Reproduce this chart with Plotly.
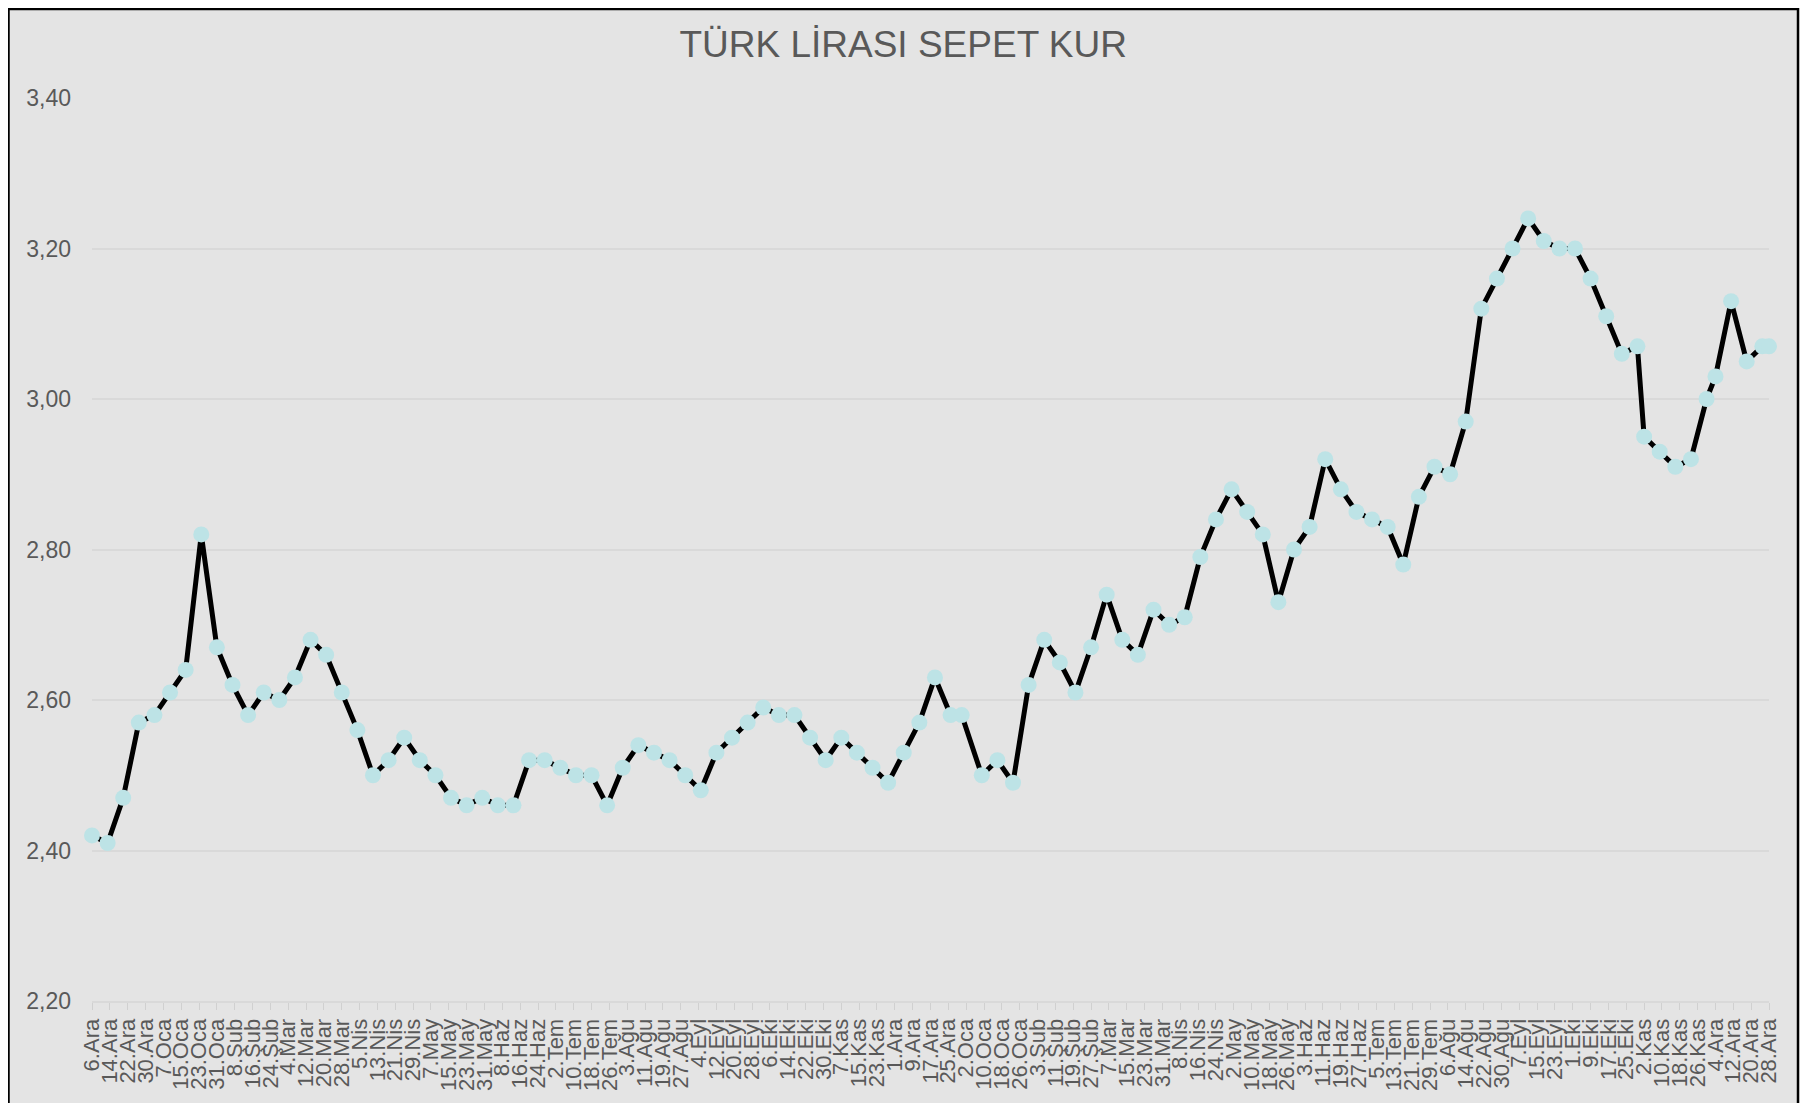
import pandas as pd
import plotly.graph_objects as go

# Weekly basket rate (USD+EUR)/2 against TRY
dates = [
    "2013-12-06", "2013-12-13", "2013-12-20", "2013-12-27", "2014-01-03", "2014-01-10",
    "2014-01-17", "2014-01-24", "2014-01-31", "2014-02-07", "2014-02-14", "2014-02-21",
    "2014-02-28", "2014-03-07", "2014-03-14", "2014-03-21", "2014-03-28", "2014-04-04",
    "2014-04-11", "2014-04-18", "2014-04-25", "2014-05-02", "2014-05-09", "2014-05-16",
    "2014-05-23", "2014-05-30", "2014-06-06", "2014-06-13", "2014-06-20", "2014-06-27",
    "2014-07-04", "2014-07-11", "2014-07-18", "2014-07-25", "2014-08-01", "2014-08-08",
    "2014-08-15", "2014-08-22", "2014-08-29", "2014-09-05", "2014-09-12", "2014-09-19",
    "2014-09-26", "2014-10-03", "2014-10-10", "2014-10-17", "2014-10-24", "2014-10-31",
    "2014-11-07", "2014-11-14", "2014-11-21", "2014-11-28", "2014-12-05", "2014-12-12",
    "2014-12-19", "2014-12-26", "2014-12-31", "2015-01-09", "2015-01-16", "2015-01-23",
    "2015-01-30", "2015-02-06", "2015-02-13", "2015-02-20", "2015-02-27", "2015-03-06",
    "2015-03-13", "2015-03-20", "2015-03-27", "2015-04-03", "2015-04-10", "2015-04-17",
    "2015-04-24", "2015-05-01", "2015-05-08", "2015-05-15", "2015-05-22", "2015-05-29",
    "2015-06-05", "2015-06-12", "2015-06-19", "2015-06-26", "2015-07-03", "2015-07-10",
    "2015-07-17", "2015-07-24", "2015-07-31", "2015-08-07", "2015-08-14", "2015-08-21",
    "2015-08-28", "2015-09-04", "2015-09-11", "2015-09-18", "2015-09-25", "2015-10-02",
    "2015-10-09", "2015-10-16", "2015-10-23", "2015-10-30", "2015-11-02", "2015-11-09",
    "2015-11-16", "2015-11-23", "2015-11-30", "2015-12-04", "2015-12-11", "2015-12-18",
    "2015-12-25", "2015-12-28",
]

values = [
    2.42, 2.41, 2.47, 2.57, 2.58, 2.61, 2.64, 2.82, 2.67, 2.62, 2.58, 2.61,
    2.60, 2.63, 2.68, 2.66, 2.61, 2.56, 2.50, 2.52, 2.55, 2.52, 2.50, 2.47,
    2.46, 2.47, 2.46, 2.46, 2.52, 2.52, 2.51, 2.50, 2.50, 2.46, 2.51, 2.54,
    2.53, 2.52, 2.50, 2.48, 2.53, 2.55, 2.57, 2.59, 2.58, 2.58, 2.55, 2.52,
    2.55, 2.53, 2.51, 2.49, 2.53, 2.57, 2.63, 2.58, 2.58, 2.50, 2.52, 2.49,
    2.62, 2.68, 2.65, 2.61, 2.67, 2.74, 2.68, 2.66, 2.72, 2.70, 2.71, 2.79,
    2.84, 2.88, 2.85, 2.82, 2.73, 2.80, 2.83, 2.92, 2.88, 2.85, 2.84, 2.83,
    2.78, 2.87, 2.91, 2.90, 2.97, 3.12, 3.16, 3.20, 3.24, 3.21, 3.20, 3.20,
    3.16, 3.11, 3.06, 3.07, 2.95, 2.93, 2.91, 2.92, 3.00, 3.03, 3.13, 3.05,
    3.07, 3.07,
]

# x axis labels, one every 8 days starting 6 Dec 2013
tick_labels = [
    "6.Ara", "14.Ara", "22.Ara", "30.Ara", "7.Oca", "15.Oca", "23.Oca", "31.Oca",
    "8.Şub", "16.Şub", "24.Şub", "4.Mar", "12.Mar", "20.Mar", "28.Mar", "5.Nis",
    "13.Nis", "21.Nis", "29.Nis", "7.May", "15.May", "23.May", "31.May", "8.Haz",
    "16.Haz", "24.Haz", "2.Tem", "10.Tem", "18.Tem", "26.Tem", "3.Ağu", "11.Ağu",
    "19.Ağu", "27.Ağu", "4.Eyl", "12.Eyl", "20.Eyl", "28.Eyl", "6.Eki", "14.Eki",
    "22.Eki", "30.Eki", "7.Kas", "15.Kas", "23.Kas", "1.Ara", "9.Ara", "17.Ara",
    "25.Ara", "2.Oca", "10.Oca", "18.Oca", "26.Oca", "3.Şub", "11.Şub", "19.Şub",
    "27.Şub", "7.Mar", "15.Mar", "23.Mar", "31.Mar", "8.Nis", "16.Nis", "24.Nis",
    "2.May", "10.May", "18.May", "26.May", "3.Haz", "11.Haz", "19.Haz", "27.Haz",
    "5.Tem", "13.Tem", "21.Tem", "29.Tem", "6.Ağu", "14.Ağu", "22.Ağu", "30.Ağu",
    "7.Eyl", "15.Eyl", "23.Eyl", "1.Eki", "9.Eki", "17.Eki", "25.Eki", "2.Kas",
    "10.Kas", "18.Kas", "26.Kas", "4.Ara", "12.Ara", "20.Ara", "28.Ara",
]
tick_dates = pd.date_range("2013-12-06", periods=len(tick_labels), freq="8D")

FONT = "Liberation Sans, Arial, sans-serif"
TEXT = "#595959"

fig = go.Figure()

fig.add_trace(
    go.Scatter(
        x=pd.to_datetime(dates),
        y=values,
        mode="lines+markers",
        line=dict(color="black", width=5),
        marker=dict(color="#bde3e6", size=16, line=dict(width=0)),
        cliponaxis=False,
        showlegend=False,
    )
)

# page body adds 8px around the figure, so the size is kept inside the window
fig.update_layout(
    width=1794,
    height=1095,
    margin=dict(l=84, r=33, t=90, b=102),
    paper_bgcolor="white",
    plot_bgcolor="rgba(0,0,0,0)",
    separators=",.",
    font=dict(family=FONT, color=TEXT),
    title=dict(
        text="TÜRK LİRASI SEPET KUR",
        x=0.499,
        xanchor="center",
        y=0.967,
        yanchor="middle",
        font=dict(size=37, color=TEXT, family=FONT),
    ),
    # chart area: grey fill with black frame (bottom edge cut off)
    shapes=[
        dict(
            type="rect",
            xref="paper",
            yref="paper",
            x0=-0.0498,
            x1=1.0173,
            y0=-0.3,
            y1=1.0986,
            fillcolor="#e4e4e4",
            line=dict(color="black", width=2.5),
            layer="below",
        )
    ],
)

fig.update_xaxes(
    type="date",
    range=[tick_dates[0], tick_dates[-1]],
    tickmode="array",
    tickvals=tick_dates,
    ticktext=tick_labels,
    tickangle=-90,
    tickfont=dict(size=22, color=TEXT),
    ticks="outside",
    ticklen=7,
    tickcolor="#d0d0d0",
    showline=True,
    linecolor="#d9d9d9",
    linewidth=2,
    showgrid=False,
    zeroline=False,
)

fig.update_yaxes(
    range=[2.2, 3.4],
    tick0=2.2,
    dtick=0.2,
    tickformat=".2f",
    tickfont=dict(size=23, color=TEXT),
    showgrid=True,
    gridcolor="#d9d9d9",
    gridwidth=2,
    zeroline=False,
    showline=False,
    ticks="",
    ticklabelstandoff=20,
)

fig.write_html("out.html")
